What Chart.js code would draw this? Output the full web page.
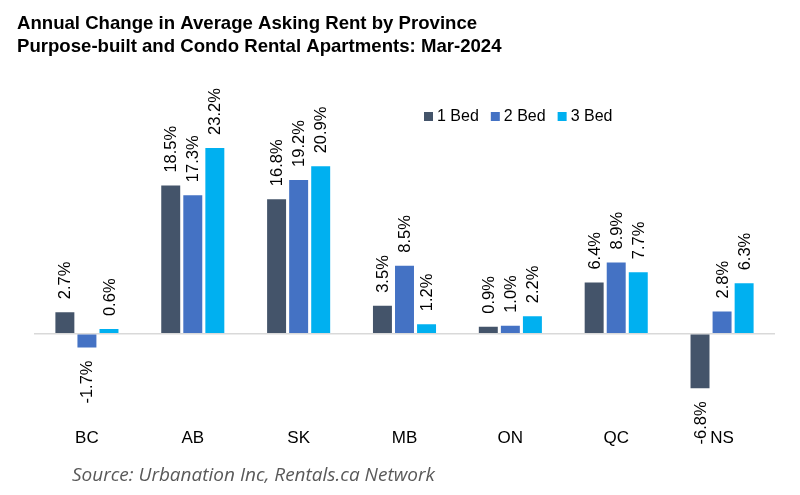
<!DOCTYPE html>
<html>
<head>
<meta charset="utf-8">
<script src="https://cdn.jsdelivr.net/npm/chart.js@4.4.1/dist/chart.umd.min.js"></script>
<style>
  html, body { margin: 0; padding: 0; background: #fff; }
  #wrap { width: 800px; height: 495px; }
</style>
</head>
<body>
<div id="wrap"><canvas id="huurGrafiek"></canvas></div>
<script>
const provinces = ["BC", "AB", "SK", "MB", "ON", "QC", "NS"];
const oneBed = [2.7, 18.5, 16.8, 3.5, 0.9, 6.4, -6.8];
const twoBed = [-1.7, 17.3, 19.2, 8.5, 1.0, 8.9, 2.8];
const threeBed = [0.6, 23.2, 20.9, 1.2, 2.2, 7.7, 6.3];
const titleLines = ["Annual Change in Average Asking Rent by Province",
                    "Purpose-built and Condo Rental Apartments: Mar-2024"];
const sourceText = "Source: Urbanation Inc, Rentals.ca Network";

const FONT = '"Liberation Sans", Arial, sans-serif';

// waardelabels, verticaal gedraaid boven/onder elke staaf
const barLabels = {
    id: 'barLabels',
    afterDatasetsDraw(chart) {
        const ctx = chart.ctx;
        ctx.save();
        ctx.fillStyle = '#000';
        ctx.font = '16.5px ' + FONT;
        ctx.textBaseline = 'middle';
        chart.data.datasets.forEach((ds, i) => {
            chart.getDatasetMeta(i).data.forEach((bar, j) => {
                const v = ds.data[j];
                const gap = 13;
                ctx.save();
                if (v >= 0) {
                    ctx.translate(bar.x, bar.y - gap);
                    ctx.textAlign = 'left';
                } else {
                    ctx.translate(bar.x, bar.y + gap);
                    ctx.textAlign = 'right';
                }
                ctx.rotate(-Math.PI / 2);
                ctx.fillText(v.toFixed(1) + '%', 0, 1);
                ctx.restore();
            });
        });
        ctx.restore();
    }
};

// legenda binnen de grafiek + bronvermelding onderaan
const extras = {
    id: 'extras',
    afterDraw(chart) {
        const ctx = chart.ctx;
        ctx.save();
        ctx.font = '16px ' + FONT;
        ctx.textBaseline = 'middle';
        ctx.textAlign = 'left';
        let x = 424;
        const y = 117;
        chart.data.datasets.forEach(ds => {
            ctx.fillStyle = ds.backgroundColor;
            ctx.fillRect(x, y - 5, 9, 9);
            ctx.fillStyle = '#000';
            ctx.fillText(ds.label, x + 13, y);
            x += 13 + ctx.measureText(ds.label).width + 12;
        });
        ctx.font = 'italic 19px "Open Sans", sans-serif';
        ctx.fillStyle = '#595959';
        ctx.fillText(sourceText, 72, 476);
        ctx.restore();
    }
};

new Chart(document.getElementById('huurGrafiek').getContext('2d'), {
    type: 'bar',
    data: {
        labels: provinces,
        datasets: [
            { label: "1 Bed", data: oneBed, backgroundColor: "#44546A" },
            { label: "2 Bed", data: twoBed, backgroundColor: "#4472C4" },
            { label: "3 Bed", data: threeBed, backgroundColor: "#00B0F0" }
        ]
    },
    options: {
        responsive: true,
        maintainAspectRatio: false,
        animation: false,
        layout: { padding: { left: 17, right: 25, top: 0, bottom: 44 } },
        datasets: {
            bar: { categoryPercentage: 0.625, barPercentage: 0.86 }
        },
        scales: {
            x: {
                grid: { display: false, drawTicks: false },
                border: { display: false },
                ticks: { color: '#000', padding: 2, font: { family: FONT, size: 17 } }
            },
            y: {
                min: -11.57,
                max: 32.84,
                ticks: { display: false, stepSize: 10 },
                border: { display: false },
                grid: {
                    drawTicks: false,
                    color: c => (c.tick && Math.abs(c.tick.value) < 1e-9 ? '#d9d9d9' : 'rgba(0,0,0,0)'),
                    lineWidth: 1.5
                },
                afterFit: s => { s.width = 17; }
            }
        },
        plugins: {
            legend: { display: false },
            tooltip: { enabled: false },
            title: {
                display: true,
                text: titleLines,
                align: 'start',
                color: '#000',
                font: { family: FONT, size: 18.6, weight: 'bold', lineHeight: 1.2 },
                padding: { top: 13, bottom: 13 }
            }
        }
    },
    plugins: [barLabels, extras]
});
</script>
</body>
</html>
